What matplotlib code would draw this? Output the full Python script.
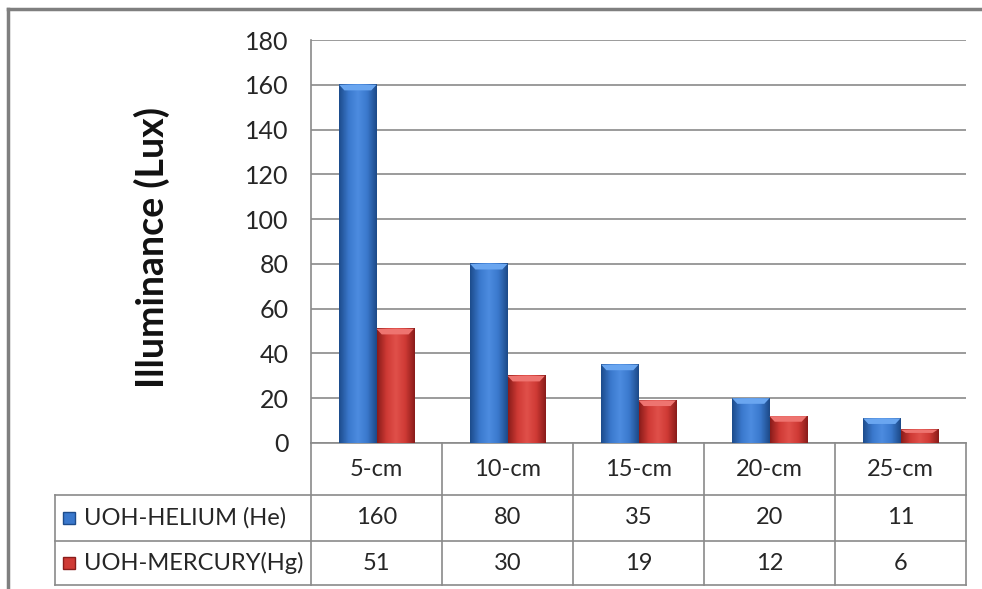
import numpy as np
import matplotlib.pyplot as plt
from matplotlib.colors import LinearSegmentedColormap

plt.rcParams['font.family'] = ['Lato', 'DejaVu Sans']

# distances and measured illuminance
categories = ['5-cm', '10-cm', '15-cm', '20-cm', '25-cm']
series_names = ['UOH-HELIUM (He)', 'UOH-MERCURY(Hg)']
helium = [160, 80, 35, 20, 11]
mercury = [51, 30, 19, 12, 6]
y_ticks = [0, 20, 40, 60, 80, 100, 120, 140, 160, 180]

W, H = 982, 589
fig = plt.figure(figsize=(W / 100, H / 100), dpi=100)

# pixel-space overlay for frame and data table
ov = fig.add_axes([0, 0, 1, 1])
ov.set_xlim(0, W)
ov.set_ylim(H, 0)
ov.axis('off')

px_left, px_right, px_top, px_bottom = 311, 966, 40, 443
ax = fig.add_axes([px_left / W, (H - px_bottom) / H,
                   (px_right - px_left) / W, (px_bottom - px_top) / H])
ax.set_zorder(2)
ax.patch.set_alpha(0)

x = np.arange(len(categories))
bw = 0.285
blue_cm = LinearSegmentedColormap.from_list(
    'b', ['#1d4c8c', '#3a78cc', '#4d8ce0', '#3a78cc', '#1d4a88'])
red_cm = LinearSegmentedColormap.from_list(
    'r', ['#8a1c1a', '#cf3a35', '#e0504a', '#cf3a35', '#8a1c1a'])

bars_he = ax.bar(x - bw / 2, helium, bw, color='#3a78cc', zorder=2)
bars_hg = ax.bar(x + bw / 2, mercury, bw, color='#cf3a35', zorder=2)

grad = np.linspace(0, 1, 64).reshape(1, -1)
for bars, cm, top in [(bars_he, blue_cm, '#6aa6f0'), (bars_hg, red_cm, '#ee7470')]:
    for b in bars:
        x0, w, h = b.get_x(), b.get_width(), b.get_height()
        b.set_visible(False)
        ax.imshow(grad, cmap=cm, aspect='auto', extent=(x0, x0 + w, 0, h),
                  zorder=2, interpolation='bilinear')
        # bevelled top edge
        bev = min(2.5, h * 0.25)
        ax.fill([x0, x0 + w, x0 + w - w * 0.14, x0 + w * 0.14],
                [h, h, h - bev, h - bev], color=top, zorder=3, lw=0)

ax.set_xlim(-0.5, len(categories) - 0.5)
ax.set_ylim(0, 180)
ax.set_yticks(y_ticks)
ax.set_yticklabels([str(t) for t in y_ticks], fontsize=18, color='#262626')
ax.tick_params(axis='y', length=0, pad=16)
ax.set_xticks([])
ax.yaxis.grid(True, color='#8a8a8a', lw=1.2)
ax.set_axisbelow(True)
for s in ['top', 'right', 'bottom']:
    ax.spines[s].set_visible(False)
ax.spines['left'].set_color('#8a8a8a')
ax.spines['left'].set_linewidth(1.2)

fig.text(152 / W, 1 - 248 / H, 'Illuminance (Lux)', rotation=90, fontsize=27,
         fontweight='bold', ha='center', va='center', color='#111111')

# outer chart frame
ov.plot([8, W + 5], [9, 9], color='#7f7f7f', lw=2.5)
ov.plot([8, 8], [9, H + 5], color='#7f7f7f', lw=2.5)

# data table under the plot
col_w = (px_right - px_left) / len(categories)
rows = [443, 495, 541, 585]
lc = '#8a8a8a'
ov.plot([px_left, px_left], [rows[0], rows[3]], color=lc, lw=1.2)
for i in range(len(categories)):
    xe = px_left + (i + 1) * col_w
    ov.plot([xe, xe], [rows[0], rows[3]], color=lc, lw=1.2)
ov.plot([px_left, px_right], [rows[0], rows[0]], color=lc, lw=1.2)
for r in rows[1:]:
    ov.plot([55, px_right], [r, r], color=lc, lw=1.2)
ov.plot([55, 55], [rows[1], rows[3]], color=lc, lw=1.2)

for i, c in enumerate(categories):
    ov.text(px_left + (i + 0.5) * col_w, (rows[0] + rows[1]) / 2, c,
            ha='center', va='center', fontsize=17, color='#262626')

marker_cols = [('#3a78cc', '#1d4c8c'), ('#cf3a35', '#8a1c1a')]
for j, (name, vals) in enumerate(zip(series_names, [helium, mercury])):
    yc = (rows[j + 1] + rows[j + 2]) / 2
    fc, ec = marker_cols[j]
    ov.add_patch(plt.Rectangle((63, yc - 6), 12, 12, facecolor=fc,
                               edgecolor=ec, lw=1))
    ov.text(84, yc, name, ha='left', va='center', fontsize=17, color='#262626')
    for i, v in enumerate(vals):
        ov.text(px_left + (i + 0.5) * col_w, yc, str(v), ha='center',
                va='center', fontsize=17, color='#262626')

fig.savefig('out.png', dpi=100)
